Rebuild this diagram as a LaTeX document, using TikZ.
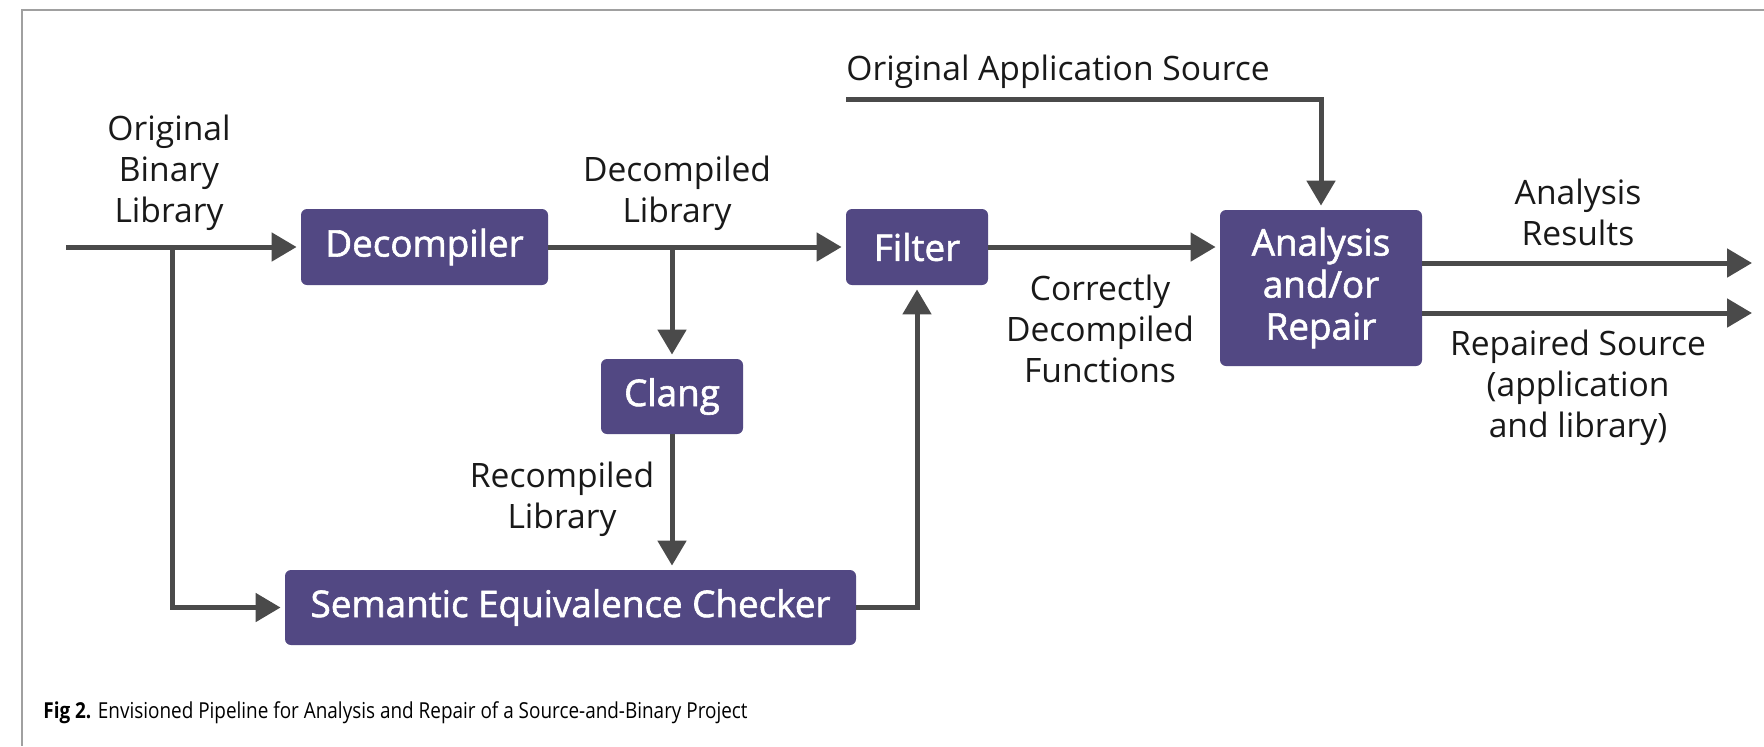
\documentclass[tikz,border=0pt]{standalone}
\usepackage{fontspec}
\usepackage{graphicx}
\setmainfont{Open Sans}
\newfontfamily\boxfont{Open Sans}[FakeBold=1.6]
\usetikzlibrary{arrows.meta}
\definecolor{boxpurple}{HTML}{524883}
\definecolor{arrgray}{HTML}{4A4A4A}
\definecolor{framegray}{HTML}{A0A0A0}
\begin{document}
\begin{tikzpicture}[x=0.5pt,y=-0.5pt,
  blk/.style={fill=boxpurple, rounded corners=3pt, text=white,
    font=\boxfont\fontsize{18.4}{21}\selectfont, align=center, inner sep=0pt},
  arr/.style={draw=arrgray, line width=2.5pt,
    -{Triangle[length=12.5pt,width=14pt]}, shorten >=2pt},
  lbl/.style={font=\fontsize{16.8}{20.5}\selectfont, align=center, text=black!90, inner sep=0pt},
]
\useasboundingbox[fill=white] (0,0) rectangle (1764,746);
\draw[framegray, line width=0.8pt] (1764,10) -- (22,10) -- (22,746);

% boxes
\node[blk, minimum width=123.5pt, minimum height=38pt] (dec) at (424.5,247) {Decompiler};
\node[blk, minimum width=71pt, minimum height=38pt] (filter) at (917,247) {Filter};
\node[blk, minimum width=71pt, minimum height=37.5pt] (clang) at (672,396.5) {Clang};
\node[blk, minimum width=285.5pt, minimum height=37.5pt] (sec) at (570.5,607.5) {Semantic Equivalence Checker};
\node[blk, minimum width=101pt, minimum height=78pt] (ana) at (1321,288) {Analysis\\and/or\\Repair};

% labels
\node[lbl] (lobl) at (169,173) {Original\\Binary\\Library};
\node[lbl] (ldl) at (677,193) {Decompiled\\Library};
\node[lbl] (lrl) at (562,499) {Recompiled\\Library};
\node[lbl] (lcdf) at (1100,329) {Correctly\\Decompiled\\Functions};
\node[lbl, anchor=west] (loas) at (846,72) {Original Application Source};
\node[lbl] (lar) at (1578,212) {Analysis\\Results};
\node[lbl] (lrs) at (1578,388) {Repaired Source\\(application\\and library)};
\node[anchor=west, inner sep=0pt, font=\fontsize{11}{13}\selectfont] (cap) at (43,713)
  {\scalebox{0.86}[1]{\textbf{Fig 2.} Envisioned Pipeline for Analysis and Repair of a Source-and-Binary Project}};

% coordinates
\coordinate (inStart) at (66,247);
\coordinate (inBranch) at (172,247);
\coordinate (decBranch) at (672,247);
\coordinate (oasStart) at (846,99);
\coordinate (out1) at (1752,263);
\coordinate (out2) at (1752,313);

% connectors
\draw[arr] (inStart) -- (dec.west);
\draw[arr, shorten <=0pt] (inBranch) |- (sec.west);
\draw[arr] (dec.east) -- (filter.west);
\draw[arr] (decBranch) -- (clang.north);
\draw[arr] (clang.south) -- (clang.south |- sec.north);
\draw[arr] (sec.east) -| (filter.south);
\draw[arr] (filter.east) -- (filter.east -| ana.west);
\draw[arr] (oasStart) -| (ana.north);
\draw[arr, shorten >=0pt] (ana.east |- out1) -- (out1);
\draw[arr, shorten >=0pt] (ana.east |- out2) -- (out2);
\end{tikzpicture}
\end{document}
